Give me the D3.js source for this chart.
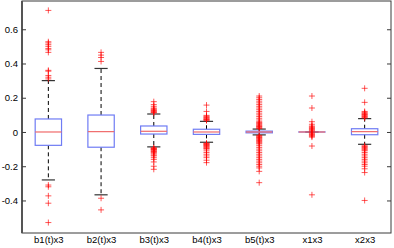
<!DOCTYPE html>
<html><head><meta charset="utf-8">
<script src="https://cdn.jsdelivr.net/npm/d3@7"></script>
<style>html,body{margin:0;padding:0;background:#fff;}svg{display:block;}</style>
</head><body>
<svg id="c" width="394" height="248"></svg>
<script>
const categories = ["b1(t)x3","b2(t)x3","b3(t)x3","b4(t)x3","b5(t)x3","x1x3","x2x3"];
const q1 = [-0.078,-0.089,-0.012,-0.014,-0.005,0,-0.016];
const medians = [0,0.002,0.004,0,0,0,0.002];
const q3 = [0.076,0.099,0.035,0.016,0.005,0,0.019];
const whiskerLow = [-0.28,-0.367,-0.087,-0.06,-0.017,0,-0.072];
const whiskerHigh = [0.30,0.371,0.105,0.062,0.017,0,0.078];
const outliers = [
  [0.71,0.527,0.52,0.51,0.50,0.488,0.48,0.465,0.36,0.355,0.33,0.32,0.31,-0.31,-0.32,-0.373,-0.416,-0.529],
  [0.465,0.449,0.435,0.412,-0.387,-0.455],
  [0.112,0.115,0.118,0.122,0.126,0.13,0.135,0.14,0.15,0.16,0.177,
   -0.092,-0.095,-0.098,-0.1,-0.103,-0.106,-0.11,-0.114,-0.118,-0.122,-0.128,-0.135,-0.14,-0.15,-0.16,-0.175,-0.2,-0.218],
  [0.066,0.07,0.073,0.076,0.08,0.084,0.088,0.092,0.097,0.12,0.157,
   -0.065,-0.068,-0.071,-0.074,-0.077,-0.08,-0.084,-0.088,-0.092,-0.097,-0.1,-0.11,-0.12,-0.13,-0.14,-0.15,-0.165,-0.179],
  [0.02,0.024,0.028,0.032,0.036,0.04,0.045,0.05,0.055,0.06,0.07,0.08,0.09,0.1,0.11,0.12,0.13,0.14,0.15,0.16,0.17,0.18,0.19,0.2,0.21,
   -0.02,-0.024,-0.028,-0.032,-0.036,-0.04,-0.045,-0.05,-0.055,-0.06,-0.065,-0.07,-0.08,-0.09,-0.1,-0.11,-0.12,-0.13,-0.14,-0.15,-0.16,-0.17,-0.18,-0.19,-0.2,-0.21,-0.23,-0.296],
  [0.005,0.01,0.015,0.02,0.025,0.03,0.035,0.045,0.06,0.14,0.21,
   -0.005,-0.01,-0.015,-0.02,-0.025,-0.03,-0.082,-0.367],
  [0.082,0.086,0.09,0.094,0.098,0.102,0.106,0.11,0.115,0.12,0.173,0.255,
   -0.08,-0.085,-0.09,-0.095,-0.1,-0.105,-0.11,-0.12,-0.13,-0.14,-0.15,-0.16,-0.17,-0.18,-0.19,-0.2,-0.215,-0.237,-0.40]
];
const yTicks = [-0.4,-0.2,0,0.2,0.4,0.6];
const yTickLabels = ["-0.4","-0.2","0","0.2","0.4","0.6"];

const L = 22, R = 391, T = 1, B = 233;
const svg = d3.select("#c");
const x = d3.scaleLinear().domain([0.5, categories.length + 0.5]).range([L, R]);
const y = d3.scaleLinear().domain([-0.59, 0.765]).range([B, T]);
const boxW = x(1.25) - x(1);   // half-width of box (0.25 units)
const capW = x(1.125) - x(1);  // half-width of cap

const font = "Liberation Sans, Arial, Helvetica, sans-serif";

// axes frame
const axisColor = "#3a3a3a";
svg.append("rect").attr("x", L).attr("y", T).attr("width", R - L).attr("height", B - T)
  .attr("fill", "none").attr("stroke", axisColor).attr("stroke-width", 1);
svg.append("line").attr("x1", L).attr("x2", L).attr("y1", T).attr("y2", B)
  .attr("stroke", "#555").attr("stroke-width", 2);

// left axis (inward ticks)
const yAxisL = d3.axisLeft(y).tickValues(yTicks).tickSize(-4).tickPadding(4)
  .tickFormat((d, i) => yTickLabels[i]);
const gL = svg.append("g").attr("transform", `translate(${L},0)`).call(yAxisL);
gL.select(".domain").remove();
gL.selectAll(".tick line").attr("stroke", axisColor);
gL.selectAll(".tick text").attr("x", -4).attr("font-family", font).attr("font-size", 9.5)
  .attr("fill", "#000");

const yAxisR = d3.axisRight(y).tickValues(yTicks).tickSize(-4).tickFormat("");
const gR = svg.append("g").attr("transform", `translate(${R},0)`).call(yAxisR);
gR.select(".domain").remove();
gR.selectAll(".tick line").attr("stroke", axisColor);

// x labels
const xAxis = d3.axisBottom(x).tickValues(d3.range(1, categories.length + 1)).tickSize(0).tickPadding(3)
  .tickFormat((d) => categories[d - 1]);
const gX = svg.append("g").attr("transform", `translate(0,${B})`).call(xAxis);
gX.select(".domain").remove();
gX.selectAll(".tick text").attr("font-family", font).attr("font-size", 9.5).attr("fill", "#000");

const data = categories.map((c, i) => ({
  i, pos: i + 1, q1: q1[i], med: medians[i], q3: q3[i], lo: whiskerLow[i], hi: whiskerHigh[i], out: outliers[i]
}));

const g = svg.append("g");
const bx = g.selectAll("g.box").data(data).enter().append("g").attr("class", "box");

// whiskers (dashed)
bx.append("line").attr("x1", d => x(d.pos)).attr("x2", d => x(d.pos))
  .attr("y1", d => y(d.q3)).attr("y2", d => y(d.hi))
  .attr("stroke", "#000").attr("stroke-width", 1).attr("stroke-dasharray", "4,3");
bx.append("line").attr("x1", d => x(d.pos)).attr("x2", d => x(d.pos))
  .attr("y1", d => y(d.q1)).attr("y2", d => y(d.lo))
  .attr("stroke", "#000").attr("stroke-width", 1).attr("stroke-dasharray", "4,3");
// caps
bx.append("line").attr("x1", d => x(d.pos) - capW).attr("x2", d => x(d.pos) + capW)
  .attr("y1", d => y(d.hi)).attr("y2", d => y(d.hi)).attr("stroke", "#333").attr("stroke-width", 1.2);
bx.append("line").attr("x1", d => x(d.pos) - capW).attr("x2", d => x(d.pos) + capW)
  .attr("y1", d => y(d.lo)).attr("y2", d => y(d.lo)).attr("stroke", "#333").attr("stroke-width", 1.2);
// box
bx.append("rect").attr("x", d => x(d.pos) - boxW).attr("width", 2 * boxW)
  .attr("y", d => y(d.q3)).attr("height", d => Math.max(0.01, y(d.q1) - y(d.q3)))
  .attr("fill", "none").attr("stroke", "#6f7cf4").attr("stroke-width", 1.2);
// median
bx.append("line").attr("x1", d => x(d.pos) - boxW).attr("x2", d => x(d.pos) + boxW)
  .attr("y1", d => y(d.med)).attr("y2", d => y(d.med)).attr("stroke", "#f06a6a").attr("stroke-width", 1.2);

// outliers '+'
const ms = 3;
bx.each(function(d) {
  d3.select(this).selectAll("path.out").data(d.out).enter().append("path")
    .attr("class", "out")
    .attr("d", v => {
      const cx = x(d.pos), cy = y(v);
      return `M${cx - ms},${cy}H${cx + ms}M${cx},${cy - ms}V${cy + ms}`;
    })
    .attr("stroke", "#ff0000").attr("stroke-opacity", 0.65).attr("stroke-width", 1).attr("fill", "none");
});
</script>
</body></html>
